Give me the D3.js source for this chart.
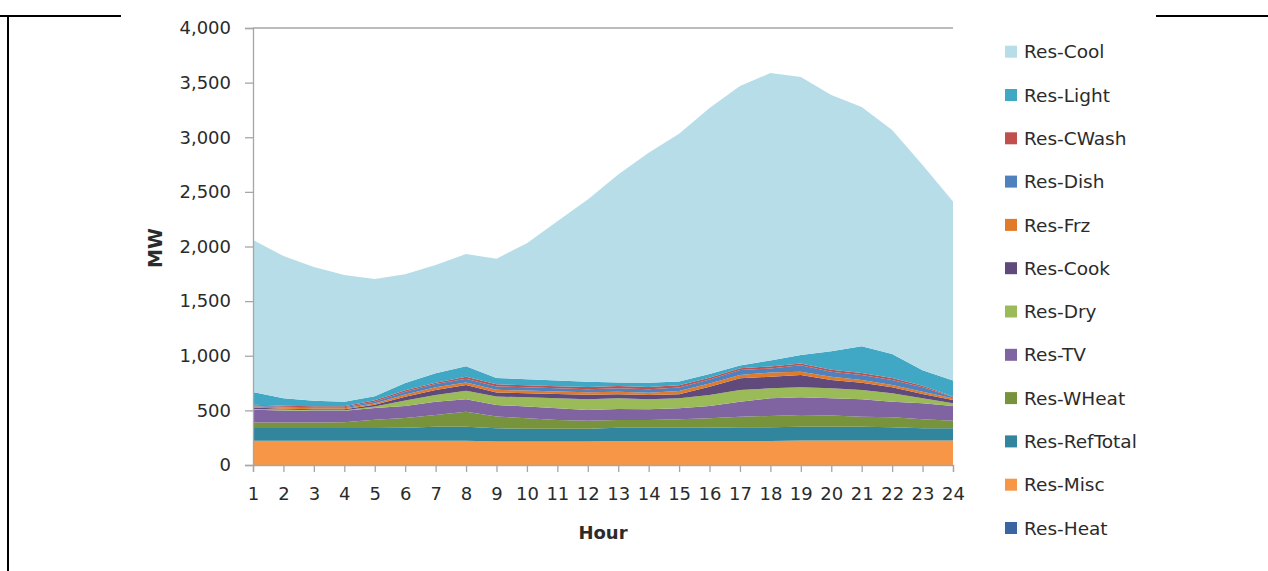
<!DOCTYPE html>
<html>
<head>
<meta charset="utf-8">
<script src="https://cdn.jsdelivr.net/npm/d3@7"></script>
<style>
  body { margin: 0; background: #fff; }
  svg { display: block; }
</style>
</head>
<body>
<div id="chart"></div>
<script>
// hours on the x axis
var hours = [1,2,3,4,5,6,7,8,9,10,11,12,13,14,15,16,17,18,19,20,21,22,23,24];
var yTicks = [0,500,1000,1500,2000,2500,3000,3500,4000];

// MW by end use (stack order, bottom first)
var resHeat     = [0,0,0,0,0,0,0,0,0,0,0,0,0,0,0,0,0,0,0,0,0,0,0,0];
var resMisc     = [222,222,222,222,222,222,223,223,215,215,215,215,220,220,220,220,220,220,224,224,224,224,224,224];
var resRefTotal = [116,116,116,116,116,120,128,128,122,116,116,116,122,122,122,122,125,125,127,127,127,121,112,112];
var resWHeat    = [51,51,51,54,76,88,107,137,106,97,82,73,70,70,76,85,97,104,107,101,91,91,82,70];
var resTV       = [116,110,107,104,107,110,122,113,107,107,107,100,101,98,101,113,138,161,161,158,159,144,147,134];
var resDry      = [7,8,6,6,15,50,61,79,76,85,91,98,97,91,91,101,106,92,92,92,85,76,45,25];
var resCook     = [15,9,8,8,15,35,46,52,37,37,40,40,37,40,37,76,107,106,113,76,67,55,40,30];
var resFrz      = [10,10,10,10,13,20,24,24,25,24,21,24,24,21,30,30,31,38,30,30,25,21,21,15];
var resDish     = [8,8,8,8,15,25,30,34,30,31,31,28,31,31,32,36,46,37,58,46,46,46,40,12];
var resCWash    = [6,8,9,9,13,15,12,18,20,18,18,20,22,22,20,16,15,19,16,18,18,18,15,6];
var resLight    = [116,70,50,41,38,65,87,97,59,56,52,48,31,37,35,33,25,55,79,169,245,221,141,145];
var resCool     = [1393,1301,1225,1161,1073,996,990,1026,1092,1243,1457,1669,1904,2106,2268,2436,2559,2630,2544,2346,2190,2049,1879,1640];

var seriesNames  = ["Res-Heat","Res-Misc","Res-RefTotal","Res-WHeat","Res-TV","Res-Dry","Res-Cook","Res-Frz","Res-Dish","Res-CWash","Res-Light","Res-Cool"];
var seriesValues = [resHeat,resMisc,resRefTotal,resWHeat,resTV,resDry,resCook,resFrz,resDish,resCWash,resLight,resCool];
var seriesColors = ["#3a65a0","#f79646","#31859c","#77933c","#8064a2","#9bbb59","#604a7b","#e07b2a","#4f81bd","#c0504d","#40a8c4","#b7dde8"];

var chartW = 1268, chartH = 571;
var plotLeft = 253, plotRight = 953, plotTop = 28, plotBottom = 465;

var svg = d3.select("#chart").append("svg")
  .attr("width", chartW)
  .attr("height", chartH);

// page frame bits around the picture
svg.append("line").attr("x1", 0).attr("x2", 121).attr("y1", 16).attr("y2", 16)
  .attr("stroke", "#000").attr("stroke-width", 2);
svg.append("line").attr("x1", 1156).attr("x2", chartW).attr("y1", 16).attr("y2", 16)
  .attr("stroke", "#000").attr("stroke-width", 2);
svg.append("line").attr("x1", 8).attr("x2", 8).attr("y1", 15).attr("y2", chartH)
  .attr("stroke", "#000").attr("stroke-width", 2);

// build the table for d3.stack
var table = hours.map(function(h, i) {
  var row = { hour: h };
  seriesNames.forEach(function(n, k) { row[n] = seriesValues[k][i]; });
  return row;
});

var stacked = d3.stack().keys(seriesNames)(table);

var x = d3.scaleLinear().domain([1, 24]).range([plotLeft, plotRight]);
var y = d3.scaleLinear().domain([0, 4000]).range([plotBottom, plotTop]);

var area = d3.area()
  .x(function(d) { return x(d.data.hour); })
  .y0(function(d) { return y(d[0]); })
  .y1(function(d) { return y(d[1]); });

svg.selectAll("path.layer")
  .data(stacked)
  .enter()
  .append("path")
  .attr("class", "layer")
  .attr("d", area)
  .attr("fill", function(d, i) { return seriesColors[i]; });

// top line of plot area
svg.append("line").attr("x1", plotLeft).attr("x2", plotRight)
  .attr("y1", y(4000)).attr("y2", y(4000))
  .attr("stroke", "#a6a6a6").attr("stroke-width", 1.3);

var font = "DejaVu Sans";
var ink = "#2b2b2b";

var yAxis = svg.append("g")
  .attr("transform", "translate(" + plotLeft + ",0)")
  .call(d3.axisLeft(y).tickValues(yTicks).tickSize(8).tickPadding(14)
    .tickFormat(d3.format(",")));
yAxis.select(".domain").attr("stroke", "#a6a6a6").attr("stroke-width", 1.3);
yAxis.selectAll(".tick line").attr("stroke", "#a6a6a6").attr("stroke-width", 1.3);
yAxis.selectAll("text").attr("font-family", font).attr("font-size", 18)
  .attr("fill", ink);

var xAxis = svg.append("g")
  .attr("transform", "translate(0," + plotBottom + ")")
  .call(d3.axisBottom(x).tickValues(hours).tickSize(7).tickPadding(15)
    .tickFormat(d3.format("d")));
xAxis.select(".domain").attr("stroke", "#a6a6a6").attr("stroke-width", 1.3);
xAxis.selectAll(".tick line").attr("stroke", "#a6a6a6").attr("stroke-width", 1.3);
xAxis.selectAll("text").attr("font-family", font).attr("font-size", 18)
  .attr("fill", ink);

svg.append("text")
  .attr("x", 603).attr("y", 539)
  .attr("text-anchor", "middle")
  .attr("font-family", font).attr("font-weight", "bold").attr("font-size", 18)
  .attr("fill", ink)
  .text("Hour");

svg.append("text")
  .attr("transform", "translate(162,248) rotate(-90)")
  .attr("text-anchor", "middle")
  .attr("font-family", font).attr("font-weight", "bold").attr("font-size", 19)
  .attr("fill", ink)
  .text("MW");

// legend, top of stack first
var legendNames = seriesNames.slice().reverse();
var legendColors = seriesColors.slice().reverse();
var legend = svg.selectAll("g.legend")
  .data(legendNames)
  .enter()
  .append("g")
  .attr("class", "legend")
  .attr("transform", function(d, i) { return "translate(1005," + (51.7 + i * 43.3) + ")"; });
legend.append("rect")
  .attr("x", 0).attr("y", -6).attr("width", 12).attr("height", 12)
  .attr("fill", function(d, i) { return legendColors[i]; });
legend.append("text")
  .attr("x", 19).attr("y", 0).attr("dy", "0.36em")
  .attr("font-family", font).attr("font-size", 18.5)
  .attr("fill", ink)
  .text(function(d) { return d; });
</script>
</body>
</html>
